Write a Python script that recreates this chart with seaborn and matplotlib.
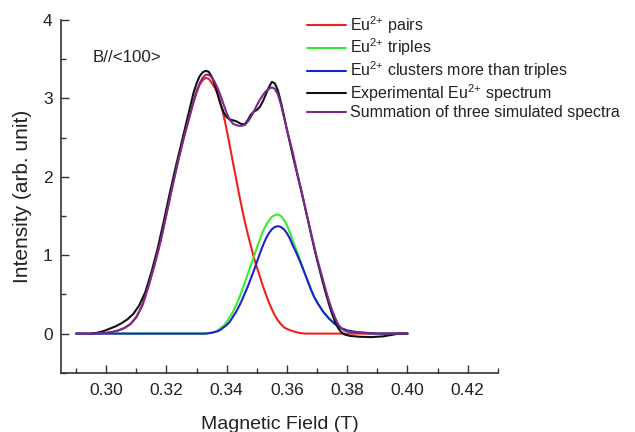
import numpy as np
import pandas as pd
import matplotlib
matplotlib.use("Agg")
import matplotlib.pyplot as plt
import seaborn as sns
from matplotlib.ticker import MultipleLocator

# values (field in T, intensity in arb. unit)
pairs_x = [0.290, 0.296, 0.300, 0.302, 0.304, 0.306, 0.308, 0.309, 0.310, 0.311,
           0.312, 0.313, 0.314, 0.315, 0.316, 0.317, 0.318, 0.319, 0.320, 0.321,
           0.322, 0.323, 0.324, 0.325, 0.326, 0.327, 0.328, 0.329, 0.330, 0.331,
           0.332, 0.333, 0.334, 0.335, 0.336, 0.337, 0.338, 0.339, 0.340, 0.341,
           0.342, 0.343, 0.344, 0.345, 0.346, 0.347, 0.348, 0.349, 0.350, 0.351,
           0.352, 0.353, 0.354, 0.355, 0.356, 0.357, 0.358, 0.359, 0.360, 0.362,
           0.364, 0.366, 0.380, 0.400]
pairs_y = [0.00, 0.00, 0.01, 0.02, 0.04, 0.07, 0.12, 0.16, 0.21, 0.28,
           0.36, 0.47, 0.60, 0.73, 0.87, 1.01, 1.17, 1.34, 1.52, 1.70,
           1.88, 2.05, 2.22, 2.38, 2.53, 2.67, 2.81, 2.95, 3.07, 3.17,
           3.23, 3.26, 3.25, 3.20, 3.14, 3.06, 2.93, 2.78, 2.60, 2.40,
           2.20, 2.00, 1.80, 1.61, 1.43, 1.27, 1.12, 0.97, 0.85, 0.73,
           0.61, 0.50, 0.40, 0.31, 0.23, 0.17, 0.12, 0.08, 0.06, 0.03,
           0.01, 0.00, 0.00, 0.00]

triples_x = [0.290, 0.333, 0.335, 0.336, 0.337, 0.338, 0.339, 0.340, 0.341, 0.342,
             0.343, 0.344, 0.345, 0.346, 0.347, 0.348, 0.349, 0.350, 0.351, 0.352,
             0.353, 0.354, 0.355, 0.356, 0.357, 0.358, 0.359, 0.360, 0.361, 0.362,
             0.363, 0.364, 0.365, 0.366, 0.367, 0.368, 0.369, 0.370, 0.371, 0.372,
             0.374, 0.376, 0.378, 0.380, 0.383, 0.386, 0.390, 0.400]
triples_y = [0.00, 0.00, 0.01, 0.02, 0.04, 0.07, 0.10, 0.15, 0.21, 0.27,
             0.35, 0.44, 0.54, 0.65, 0.76, 0.87, 0.98, 1.09, 1.20, 1.30,
             1.38, 1.44, 1.49, 1.51, 1.52, 1.50, 1.45, 1.38, 1.29, 1.18,
             1.08, 0.98, 0.87, 0.76, 0.66, 0.56, 0.47, 0.40, 0.34, 0.28,
             0.19, 0.12, 0.07, 0.04, 0.02, 0.01, 0.00, 0.00]

clusters_x = [0.290, 0.333, 0.335, 0.336, 0.337, 0.338, 0.339, 0.340, 0.341, 0.342,
              0.343, 0.344, 0.345, 0.346, 0.347, 0.348, 0.349, 0.350, 0.351, 0.352,
              0.353, 0.354, 0.355, 0.356, 0.357, 0.358, 0.359, 0.360, 0.361, 0.362,
              0.363, 0.364, 0.365, 0.366, 0.367, 0.368, 0.369, 0.370, 0.371, 0.372,
              0.374, 0.376, 0.378, 0.380, 0.383, 0.386, 0.390, 0.400]
clusters_y = [0.00, 0.00, 0.01, 0.02, 0.03, 0.05, 0.08, 0.11, 0.15, 0.21,
              0.27, 0.34, 0.42, 0.51, 0.60, 0.70, 0.80, 0.91, 1.02, 1.12,
              1.21, 1.28, 1.33, 1.36, 1.37, 1.36, 1.33, 1.28, 1.21, 1.12,
              1.04, 0.95, 0.86, 0.76, 0.66, 0.56, 0.47, 0.40, 0.34, 0.28,
              0.19, 0.12, 0.07, 0.04, 0.02, 0.01, 0.00, 0.00]

exp_x = [0.295, 0.297, 0.299, 0.301, 0.303, 0.305, 0.307, 0.309, 0.311, 0.313,
         0.315, 0.317, 0.319, 0.321, 0.323, 0.325, 0.327, 0.328, 0.329, 0.330,
         0.331, 0.332, 0.333, 0.334, 0.335, 0.336, 0.337, 0.338, 0.339, 0.340,
         0.341, 0.342, 0.343, 0.344, 0.345, 0.346, 0.347, 0.348, 0.349, 0.350,
         0.351, 0.352, 0.353, 0.354, 0.355, 0.356, 0.357, 0.358, 0.359, 0.360,
         0.361, 0.362, 0.363, 0.364, 0.365, 0.366, 0.367, 0.368, 0.369, 0.370,
         0.371, 0.372, 0.373, 0.374, 0.375, 0.376, 0.377, 0.378, 0.379, 0.381,
         0.384, 0.388, 0.392, 0.395, 0.397, 0.400]
exp_y = [0.00, 0.01, 0.03, 0.06, 0.09, 0.13, 0.18, 0.25, 0.36, 0.53,
         0.78, 1.07, 1.41, 1.77, 2.11, 2.43, 2.75, 2.91, 3.07, 3.19,
         3.28, 3.33, 3.35, 3.34, 3.28, 3.18, 3.05, 2.92, 2.82, 2.76,
         2.73, 2.72, 2.71, 2.69, 2.67, 2.67, 2.72, 2.79, 2.83, 2.85,
         2.89, 2.96, 3.05, 3.14, 3.21, 3.19, 3.10, 2.95, 2.78, 2.60,
         2.43, 2.26, 2.10, 1.94, 1.78, 1.61, 1.44, 1.27, 1.10, 0.94,
         0.79, 0.64, 0.50, 0.37, 0.25, 0.15, 0.07, 0.02, -0.01, -0.03,
         -0.04, -0.045, -0.035, -0.015, 0.00, 0.00]

sum_x = [0.290, 0.296, 0.300, 0.302, 0.304, 0.306, 0.308, 0.310, 0.312, 0.314,
         0.316, 0.318, 0.320, 0.322, 0.324, 0.326, 0.328, 0.329, 0.330, 0.331,
         0.332, 0.333, 0.334, 0.335, 0.336, 0.337, 0.338, 0.339, 0.340, 0.341,
         0.342, 0.343, 0.344, 0.345, 0.346, 0.347, 0.348, 0.349, 0.350, 0.351,
         0.352, 0.353, 0.354, 0.355, 0.356, 0.357, 0.358, 0.359, 0.360, 0.361,
         0.362, 0.363, 0.364, 0.365, 0.366, 0.367, 0.368, 0.369, 0.370, 0.371,
         0.372, 0.373, 0.374, 0.375, 0.376, 0.377, 0.378, 0.379, 0.381, 0.384,
         0.388, 0.400]
sum_y = [0.00, 0.00, 0.01, 0.02, 0.04, 0.07, 0.12, 0.21, 0.36, 0.60,
         0.87, 1.17, 1.52, 1.88, 2.22, 2.53, 2.82, 2.96, 3.09, 3.19,
         3.26, 3.30, 3.30, 3.27, 3.21, 3.13, 3.03, 2.92, 2.81, 2.73,
         2.68, 2.66, 2.65, 2.65, 2.66, 2.70, 2.76, 2.83, 2.91, 2.98,
         3.04, 3.09, 3.12, 3.14, 3.12, 3.05, 2.92, 2.76, 2.60, 2.45,
         2.30, 2.12, 1.95, 1.79, 1.62, 1.45, 1.28, 1.12, 0.96, 0.82,
         0.68, 0.54, 0.41, 0.30, 0.20, 0.12, 0.07, 0.04, 0.02, 0.01,
         0.00, 0.00]

x_ticks = [0.30, 0.32, 0.34, 0.36, 0.38, 0.40, 0.42]
y_ticks = [0, 1, 2, 3, 4]

sns.set_style("ticks")
plt.rcParams['font.family'] = ['Liberation Sans', 'DejaVu Sans']
plt.rcParams['mathtext.default'] = 'regular'

fig = plt.figure(figsize=(6.35, 4.32), dpi=100)
ax = fig.add_axes([0.096, 0.137, 0.688, 0.817])

series = [
    (pairs_x, pairs_y, '#ee2020', r'Eu$^{2{+}}$ pairs'),
    (triples_x, triples_y, '#33ee33', r'Eu$^{2{+}}$ triples'),
    (clusters_x, clusters_y, '#2020cc', r'Eu$^{2{+}}$ clusters more than triples'),
    (exp_x, exp_y, '#111111', r'Experimental Eu$^{2{+}}$ spectrum'),
    (sum_x, sum_y, '#7a2a8c', 'Summation of three simulated spectra'),
]
for xs, ys, col, lab in series:
    df = pd.DataFrame({'x': xs, 'y': ys})
    sns.lineplot(data=df, x='x', y='y', ax=ax, color=col, label=lab,
                 linewidth=1.5, sort=False)

ax.set_xlim(0.285, 0.43)
ax.set_ylim(-0.5, 4)
ax.set_xticks(x_ticks)
ax.set_xticklabels([f'{v:.2f}' for v in x_ticks])
ax.set_yticks(y_ticks)
ax.xaxis.set_minor_locator(MultipleLocator(0.01))
ax.yaxis.set_minor_locator(MultipleLocator(0.5))
ax.tick_params(which='both', direction='in', colors='#333333', labelcolor='#222222',
               labelsize=12.5, width=1.0)
ax.tick_params(which='major', length=6)
ax.tick_params(which='minor', length=3.5)
ax.tick_params(axis='x', pad=7)
ax.tick_params(axis='y', pad=6)
sns.despine(ax=ax)
for s in ['left', 'bottom']:
    ax.spines[s].set_color('#333333')
    ax.spines[s].set_linewidth(1.2)

ax.set_xlabel('Magnetic Field (T)', fontsize=14, color='#222222', labelpad=13)
ax.set_ylabel('Intensity (arb. unit)', fontsize=15, color='#222222', labelpad=8)

ax.text(0.2955, 3.52, 'B//<100>', fontsize=12.2, va='center', ha='left', color='#222222')

leg = ax.legend(loc='upper left', bbox_to_anchor=(0.484, 0.968),
                bbox_transform=fig.transFigure, frameon=False, fontsize=11.5,
                handlelength=2.4, handletextpad=0.25, labelspacing=0.07,
                borderpad=0, borderaxespad=0)
for t in leg.get_texts():
    t.set_color('#222222')

fig.savefig('out.png', dpi=100)
